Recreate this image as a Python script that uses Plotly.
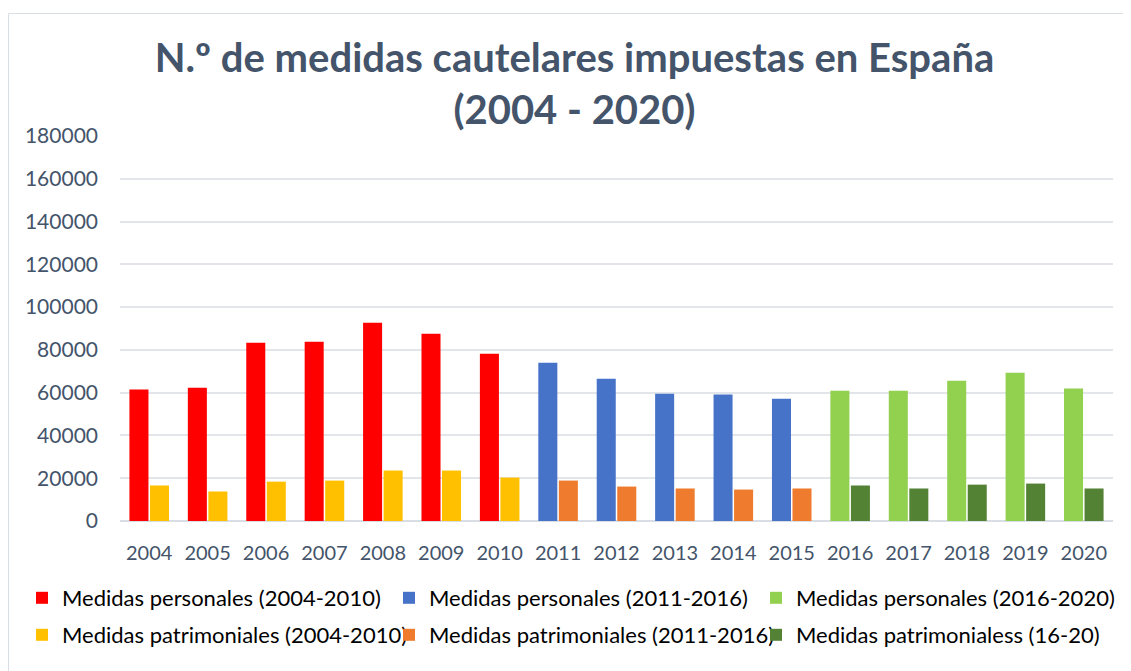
import plotly.graph_objects as go

years = [str(y) for y in range(2004, 2021)]
years_a = years[0:7]     # 2004-2010
years_b = years[7:12]    # 2011-2015
years_c = years[12:17]   # 2016-2020

pers_04_10 = [61500, 62300, 83300, 83800, 92700, 87500, 78200]
patr_04_10 = [16600, 13800, 18400, 18900, 23600, 23600, 20300]
pers_11_16 = [74000, 66500, 59500, 59100, 57200]
patr_11_16 = [18900, 16100, 15200, 14700, 15200]
pers_16_20 = [60900, 60900, 65600, 69300, 61900]
patr_16_20 = [16600, 15200, 17000, 17500, 15200]

y_ticks = list(range(0, 180001, 20000))

FONT = "Lato"
TXT = "#44546A"

fig = go.Figure()
series = [
    ("Medidas personales (2004-2010)", years_a, pers_04_10, "#FF0000", "p", "legend"),
    ("Medidas personales (2011-2016)", years_b, pers_11_16, "#4673C8", "p", "legend"),
    ("Medidas personales (2016-2020)", years_c, pers_16_20, "#92D050", "p", "legend"),
    ("Medidas patrimoniales (2004-2010)", years_a, patr_04_10, "#FFC000", "q", "legend2"),
    ("Medidas patrimoniales (2011-2016)", years_b, patr_11_16, "#EF7B2E", "q", "legend2"),
    ("Medidas patrimonialess (16-20)", years_c, patr_16_20, "#548235", "q", "legend2"),
]
for name, xs, ys, col, grp, leg in series:
    fig.add_trace(go.Bar(name=name, x=xs, y=ys, marker=dict(color=col, line=dict(width=0)),
                         offsetgroup=grp, legend=leg))

# the page body adds an 8px offset; figure sized to fill the rest of the window
OFF = 8
W, H = 1131 - OFF, 671 - OFF
ML, MR, MT, MB = 120 - OFF, 18, 136 - OFF, 150
pw = W - ML - MR
ph = H - MT - MB


def px_x(x):
    return (x - OFF - ML) / pw


def px_y(y):
    return (H - MB - (y - OFF)) / ph


legend_common = dict(
    orientation="h", xref="paper", yref="paper", xanchor="left", yanchor="middle",
    font=dict(family=FONT, size=22, color="#000000"),
    entrywidth=322, entrywidthmode="pixels", bgcolor="rgba(0,0,0,0)",
    itemwidth=30, traceorder="normal",
)

fig.update_layout(
    width=W, height=H,
    margin=dict(l=ML, r=MR, t=MT, b=MB, autoexpand=False),
    paper_bgcolor="white", plot_bgcolor="white",
    barmode="group", bargap=0.297, bargroupgap=0.073,
    title=dict(
        text="<b>N.º de medidas cautelares impuestas en España<br>(2004 - 2020)</b>",
        x=(574.5 - OFF) / W, xref="container", xanchor="center",
        y=1 - 64 / H, yref="container", yanchor="top",
        font=dict(family=FONT, size=40, color=TXT),
    ),
    legend=dict(x=px_x(22), y=px_y(598), **legend_common),
    legend2=dict(x=px_x(22), y=px_y(635), **legend_common),
    xaxis=dict(
        type="category", categoryorder="array", categoryarray=years,
        tickfont=dict(family=FONT, size=20, color=TXT),
        showgrid=False, showline=False, ticks="", ticklabelstandoff=18,
    ),
    yaxis=dict(
        range=[0, 180000], tickvals=y_ticks, ticktext=[str(v) for v in y_ticks],
        tickfont=dict(family=FONT, size=21, color=TXT),
        showgrid=True, gridcolor="#E2E6EB", gridwidth=2,
        zeroline=True, zerolinecolor="#D9DEE4", zerolinewidth=2,
        showline=False, ticks="", ticklabelstandoff=21,
    ),
    shapes=[dict(
        type="rect", xref="paper", yref="paper",
        x0=px_x(8.5), x1=px_x(1131 + 20),
        y0=px_y(671 + 20), y1=px_y(13.5),
        line=dict(color="#D9DEE4", width=1), fillcolor="rgba(0,0,0,0)", layer="below",
    )],
)

fig.write_html("out.html")
